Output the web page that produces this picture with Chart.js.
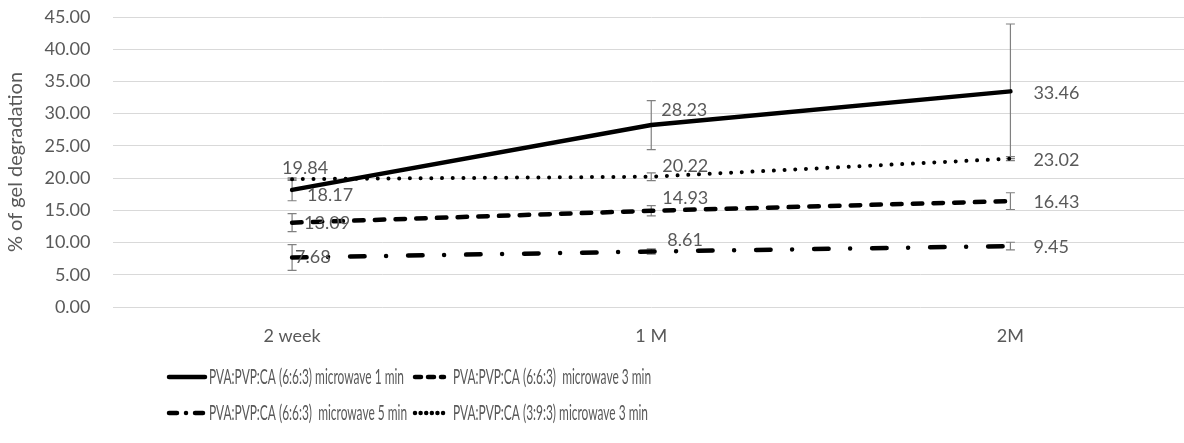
<!DOCTYPE html>
<html>
<head>
<meta charset="utf-8">
<script src="https://cdn.jsdelivr.net/npm/chart.js@4.4.1/dist/chart.umd.min.js"></script>
<style>
  html, body { margin: 0; padding: 0; background: #fff; overflow: hidden; }
  #wrap { position: relative; width: 1190px; height: 443px; }
</style>
</head>
<body>
<div id="wrap"><canvas id="chart"></canvas></div>
<script>
const categories = ['2 week', '1 M', '2M'];
const seriesNames = [
  'PVA:PVP:CA (6:6:3) microwave 1 min',
  'PVA:PVP:CA (6:6:3)  microwave 3 min',
  'PVA:PVP:CA (6:6:3)  microwave 5 min',
  'PVA:PVP:CA (3:9:3) microwave 3 min'
];
const mw1 = [18.17, 28.23, 33.46];
const mw3 = [13.09, 14.93, 16.43];
const mw5 = [7.68, 8.61, 9.45];
const mw3b = [19.84, 20.22, 23.02];
const mw1Err = [1.68, 3.8, 10.45];
const mw3Err = [1.4, 0.8, 1.3];
const mw5Err = [2.0, 0.4, 0.6];
const mw3bErr = [0.2, 0.6, 0.3];
const yTicks = [0, 5, 10, 15, 20, 25, 30, 35, 40, 45];

const gray = '#595959';
const font = 'Lato, "Open Sans", sans-serif';

// label placement: [dx to left edge, dy of centre] from the point
const labelOffsets = [
  [[15, 5], [10, -15], [23, 1.5]],
  [[12, 1], [11, -13], [23, 1]],
  [[3, 0], [16, -11], [23, 1.5]],
  [[-10, -11], [11, -11], [23, 1.5]]
];

const lineStyles = [
  { dash: [], legendDash: [] },
  { dash: [9.5, 11.2], legendDash: [6, 7] },
  { dash: [14.5, 21.5, 0.01, 22], legendDash: [8, 9, 0.01, 9] },
  { dash: [0.01, 10.7], legendDash: [0.01, 5.6] }
];

const values = [mw1, mw3, mw5, mw3b];
const errors = [mw1Err, mw3Err, mw5Err, mw3bErr];

const errorBars = {
  id: 'errorBars',
  beforeDatasetsDraw(chart) {
    const ctx = chart.ctx;
    const y = chart.scales.y;
    ctx.save();
    ctx.strokeStyle = '#808080';
    ctx.lineWidth = 1.2;
    chart.data.datasets.forEach((ds, i) => {
      chart.getDatasetMeta(i).data.forEach((pt, j) => {
        const v = ds.data[j], e = errors[i][j];
        const top = y.getPixelForValue(v + e);
        const bot = y.getPixelForValue(v - e);
        const x = pt.x;
        ctx.beginPath();
        ctx.moveTo(x, top); ctx.lineTo(x, bot);
        ctx.moveTo(x - 4.5, top); ctx.lineTo(x + 4.5, top);
        ctx.moveTo(x - 4.5, bot); ctx.lineTo(x + 4.5, bot);
        ctx.stroke();
      });
    });
    ctx.restore();
  }
};

const valueLabels = {
  id: 'valueLabels',
  afterDatasetsDraw(chart) {
    const ctx = chart.ctx;
    ctx.save();
    ctx.font = '18px ' + font;
    ctx.fillStyle = gray;
    ctx.textAlign = 'left';
    ctx.textBaseline = 'middle';
    chart.data.datasets.forEach((ds, i) => {
      chart.getDatasetMeta(i).data.forEach((pt, j) => {
        const off = labelOffsets[i][j];
        ctx.fillText(ds.data[j].toFixed(2), pt.x + off[0], pt.y + off[1]);
      });
    });
    ctx.restore();
  }
};

const legendCols = [{ x: 167, len: 40, text: 209 }, { x: 413, len: 33, text: 453 }];
const legendRows = [377, 413];

const bottomLegend = {
  id: 'bottomLegend',
  afterDraw(chart) {
    const ctx = chart.ctx;
    ctx.save();
    ctx.font = '21px ' + font;
    const sx = 195 / ctx.measureText(seriesNames[0]).width;
    seriesNames.forEach((name, i) => {
      const col = legendCols[i % 2];
      const y = legendRows[Math.floor(i / 2)];
      ctx.strokeStyle = '#000';
      ctx.lineWidth = 4.5;
      ctx.lineCap = 'round';
      ctx.setLineDash(lineStyles[i].legendDash);
      ctx.beginPath();
      ctx.moveTo(col.x + 2, y);
      ctx.lineTo(col.x + col.len - 2, y);
      ctx.stroke();
      ctx.setLineDash([]);
      ctx.save();
      ctx.translate(col.text, y);
      ctx.scale(sx, 1);
      ctx.fillStyle = gray;
      ctx.textBaseline = 'middle';
      ctx.fillText(name, 0, 0);
      ctx.restore();
    });
    ctx.restore();
  }
};

new Chart(document.getElementById('chart'), {
  type: 'line',
  data: {
    labels: categories,
    datasets: values.map((v, i) => ({
      label: seriesNames[i],
      data: v,
      borderColor: '#000',
      borderWidth: i === 3 ? 4 : 4.5,
      borderDash: lineStyles[i].dash,
      borderCapStyle: 'round',
      pointRadius: 0,
      tension: 0,
      fill: false
    }))
  },
  options: {
    responsive: true,
    maintainAspectRatio: false,
    animation: false,
    events: [],
    layout: { padding: { top: 17, bottom: 96, left: 0, right: 0 } },
    plugins: {
      legend: { display: false },
      tooltip: { enabled: false }
    },
    scales: {
      x: {
        offset: true,
        grid: { display: false, drawTicks: false },
        border: { display: false },
        ticks: { color: gray, font: { size: 18, family: font }, padding: 18 },
        afterFit(scale) { scale.height = 40; }
      },
      y: {
        min: 0,
        max: 45,
        afterBuildTicks(scale) { scale.ticks = yTicks.map(v => ({ value: v })); },
        grid: { color: '#d9d9d9', lineWidth: 1, drawTicks: false },
        border: { display: false },
        ticks: {
          color: gray,
          font: { size: 18, family: font },
          padding: 22,
          callback: v => v.toFixed(2)
        },
        title: {
          display: true,
          text: '% of gel degradation',
          color: gray,
          font: { size: 20, family: font },
          padding: { top: 4, bottom: 0 }
        },
        afterFit(scale) {
          scale.width = 112.5;
          scale.paddingTop = 0;
          scale.paddingBottom = 0;
        }
      }
    }
  },
  plugins: [errorBars, valueLabels, bottomLegend]
});
</script>
</body>
</html>
